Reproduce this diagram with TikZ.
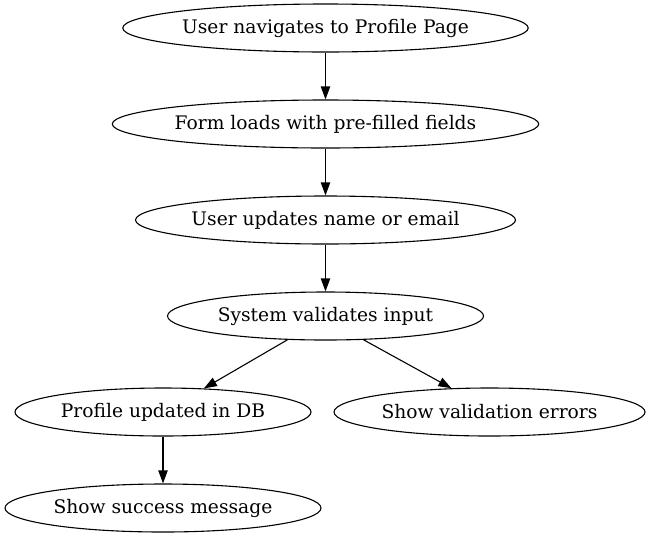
\documentclass[tikz,border=0pt]{standalone}
\usepackage{fontspec}
\setmainfont{DejaVu Serif}
\usetikzlibrary{shapes,arrows.meta}
\tikzstyle{line} = [draw, line width=1.1pt, -{Triangle[length=13pt, width=9.3pt]}]
\tikzstyle{ellip} = [ellipse, draw, line width=1.1pt, inner sep=0pt, minimum height=48pt, node distance=96pt, font=\fontsize{18.67}{22}\selectfont]

\begin{document}
\begin{tikzpicture}
		\useasboundingbox (0pt,0pt) rectangle (650pt,-539pt);
		\node[ellip, minimum width=403pt] (nav) at (325.5pt,-28pt) {User navigates to Profile Page};
		\node[ellip, minimum width=420pt, below of=nav] (form) {Form loads with pre-filled fields};
		\node[ellip, minimum width=380pt, below of=form] (upd) {User updates name or email};
		\node[ellip, minimum width=316pt, below of=upd] (sys) {System validates input};
		
		\path [line] (nav) to (form);
		\path [line] (form) to (upd);
		\path [line] (upd) to (sys);
		
		\node[ellip, minimum width=296pt, below of=sys, xshift=-162.5pt] (prof) {Profile updated in DB};
		\node[ellip, minimum width=311pt, below of=sys, xshift=164pt] (err) {Show validation errors};
		\node[ellip, minimum width=316pt, below of=prof] (ok) {Show success message};
		
		\path [line] (sys.212) to (prof.30);
		\path [line] (sys.328) to (err.148);
		\path [line] (prof) to (ok);
	\end{tikzpicture}
\end{document}
